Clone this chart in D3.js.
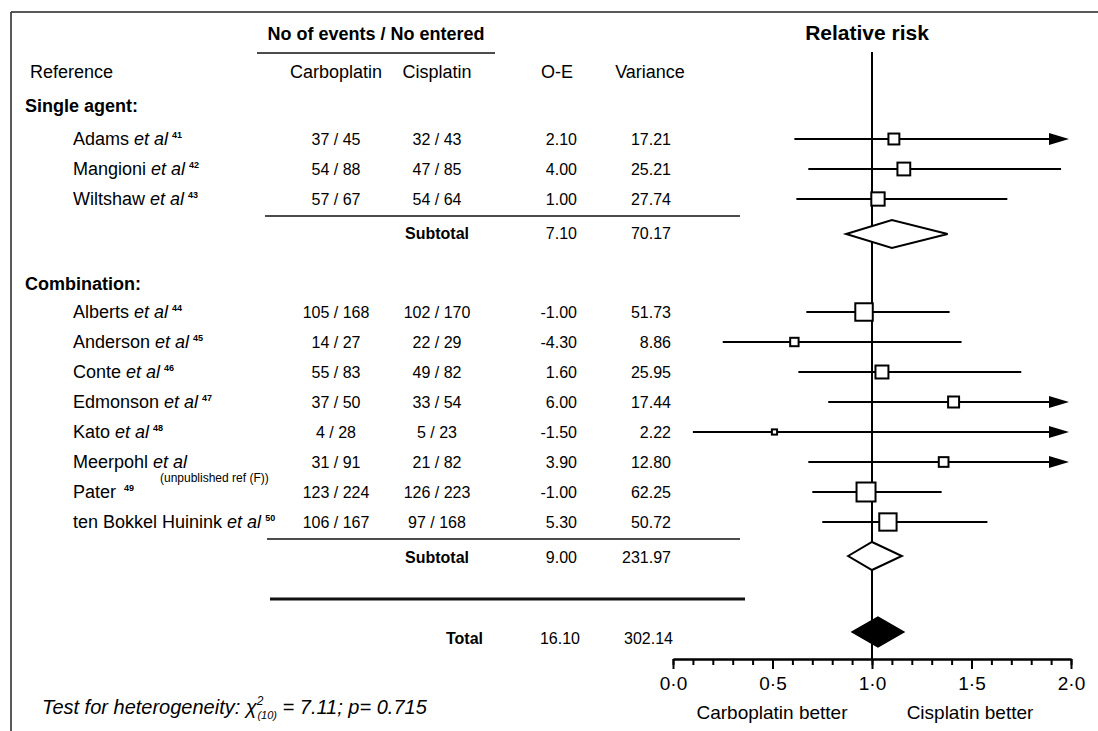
<!DOCTYPE html>
<html>
<head>
<meta charset="utf-8">
<script src="https://cdn.jsdelivr.net/npm/d3@7"></script>
<style>
  body { margin: 0; background: #fff; }
  svg { font-family: "Liberation Sans", Arial, Helvetica, sans-serif; }
  .num { font-size: 16px; }
  .lbl { font-size: 18px; }
  .bold { font-weight: bold; }
</style>
</head>
<body>
<div id="chart"></div>
<script>
// ---- data ----
var groups = ["Single agent:", "Combination:"]
var studies = ["Adams", "Mangioni", "Wiltshaw", "Alberts", "Anderson", "Conte", "Edmonson", "Kato", "Meerpohl", "Pater", "ten Bokkel Huinink"]
var studyGroup = [0, 0, 0, 1, 1, 1, 1, 1, 1, 1, 1]
var etAl = [true, true, true, true, true, true, true, true, true, false, true]
var refNo = ["41", "42", "43", "44", "45", "46", "47", "48", "", "49", "50"]
var carboEvents = [37, 54, 57, 105, 14, 55, 37, 4, 31, 123, 106]
var carboEntered = [45, 88, 67, 168, 27, 83, 50, 28, 91, 224, 167]
var cisEvents = [32, 47, 54, 102, 22, 49, 33, 5, 21, 126, 97]
var cisEntered = [43, 85, 64, 170, 29, 82, 54, 23, 82, 223, 168]
var oe = [2.10, 4.00, 1.00, -1.00, -4.30, 1.60, 6.00, -1.50, 3.90, -1.00, 5.30]
var variance = [17.21, 25.21, 27.74, 51.73, 8.86, 25.95, 17.44, 2.22, 12.80, 62.25, 50.72]
var rr = [1.11, 1.16, 1.03, 0.96, 0.61, 1.05, 1.41, 0.51, 1.36, 0.97, 1.08]
var rrLow = [0.61, 0.68, 0.62, 0.67, 0.25, 0.63, 0.78, 0.10, 0.68, 0.70, 0.75]
var rrHigh = [2.3, 1.95, 1.68, 1.39, 1.45, 1.75, 2.5, 4.0, 2.8, 1.35, 1.58]

var subOE = [7.10, 9.00]
var subVar = [70.17, 231.97]
var subRR = [1.10, 1.00]
var subLow = [0.87, 0.88]
var subHigh = [1.38, 1.15]

var totalOE = 16.10
var totalVar = 302.14
var totalRR = 1.03
var totalLow = 0.90
var totalHigh = 1.16

var majorTicks = [0, 0.5, 1, 1.5, 2]

// ---- layout ----
var W = 1098, H = 731
var svg = d3.select("#chart").append("svg")
  .attr("width", W)
  .attr("height", H)

var x = d3.scaleLinear().domain([0, 2]).range([673, 1071])
var box = d3.scaleSqrt().domain([0, 70]).range([2, 20])

// row centre for each study: single agent from 139, combination from 312, 30px apart
var rowY = function(i) {
  var g = studyGroup[i]
  var first = studyGroup.indexOf(g)
  return (g === 0 ? 139 : 312) + (i - first) * 30
}
var subY = [234, 556]
var subTextY = [239, 563]
var totalY = 632, totalTextY = 644

var colCarbo = 336, colCis = 437, colOE = 577, colVar = 671, colName = 73

// frame
svg.append("line").attr("x1", 11).attr("x2", W).attr("y1", 12).attr("y2", 12)
  .attr("stroke", "#222").attr("stroke-width", 1.5)
svg.append("line").attr("x1", 11).attr("x2", 11).attr("y1", 12).attr("y2", H)
  .attr("stroke", "#222").attr("stroke-width", 1.5)

// headers
svg.append("text").attr("class", "lbl bold").attr("x", 376).attr("y", 40)
  .attr("text-anchor", "middle").text("No of events / No entered")
svg.append("line").attr("x1", 257).attr("x2", 495).attr("y1", 53).attr("y2", 53)
  .attr("stroke", "#111").attr("stroke-width", 1.5)
svg.append("text").attr("class", "lbl").attr("x", 30).attr("y", 78).text("Reference")
svg.append("text").attr("class", "lbl").attr("x", colCarbo).attr("y", 78).attr("text-anchor", "middle").text("Carboplatin")
svg.append("text").attr("class", "lbl").attr("x", colCis).attr("y", 78).attr("text-anchor", "middle").text("Cisplatin")
svg.append("text").attr("class", "lbl").attr("x", 557).attr("y", 78).attr("text-anchor", "middle").text("O-E")
svg.append("text").attr("class", "lbl").attr("x", 650).attr("y", 78).attr("text-anchor", "middle").text("Variance")
svg.append("text").attr("x", 867).attr("y", 40).attr("text-anchor", "middle")
  .attr("font-size", 21).attr("font-weight", "bold").text("Relative risk")

// group labels
svg.selectAll(".grp").data(groups).enter().append("text")
  .attr("class", "grp lbl bold")
  .attr("x", 25)
  .attr("y", (d, i) => i === 0 ? 112 : 290)
  .text(d => d)

// study rows
var idx = d3.range(studies.length)
var names = svg.selectAll(".name").data(idx).enter().append("text")
  .attr("class", "name lbl")
  .attr("x", colName)
  .attr("y", i => rowY(i) + 6)
names.append("tspan").text(i => etAl[i] ? studies[i] + " " : studies[i])
names.filter(i => etAl[i]).append("tspan").attr("font-style", "italic").text("et al")
names.filter(i => refNo[i] !== "").append("tspan")
  .attr("font-size", 9).attr("font-weight", "bold").attr("dx", i => etAl[i] ? 4 : 8).attr("dy", -7)
  .text(i => refNo[i])

svg.append("text").attr("x", 160).attr("y", 482).attr("font-size", 12)
  .text("(unpublished ref (F))")

svg.selectAll(".carbo").data(idx).enter().append("text")
  .attr("class", "carbo num").attr("text-anchor", "middle")
  .attr("x", colCarbo).attr("y", i => rowY(i) + 6)
  .text(i => carboEvents[i] + " / " + carboEntered[i])
svg.selectAll(".cis").data(idx).enter().append("text")
  .attr("class", "cis num").attr("text-anchor", "middle")
  .attr("x", colCis).attr("y", i => rowY(i) + 6)
  .text(i => cisEvents[i] + " / " + cisEntered[i])
svg.selectAll(".oe").data(idx).enter().append("text")
  .attr("class", "oe num").attr("text-anchor", "end")
  .attr("x", colOE).attr("y", i => rowY(i) + 6)
  .text(i => oe[i].toFixed(2))
svg.selectAll(".var").data(idx).enter().append("text")
  .attr("class", "var num").attr("text-anchor", "end")
  .attr("x", colVar).attr("y", i => rowY(i) + 6)
  .text(i => variance[i].toFixed(2))

// subtotal rules and rows
svg.append("line").attr("x1", 265).attr("x2", 740).attr("y1", 216).attr("y2", 216)
  .attr("stroke", "#111").attr("stroke-width", 1.5)
svg.append("line").attr("x1", 267).attr("x2", 740).attr("y1", 539).attr("y2", 539)
  .attr("stroke", "#111").attr("stroke-width", 1.5)
svg.append("line").attr("x1", 270).attr("x2", 745).attr("y1", 599).attr("y2", 599)
  .attr("stroke", "#111").attr("stroke-width", 3)

subOE.forEach(function(v, g) {
  svg.append("text").attr("class", "num bold").attr("x", colCis).attr("y", subTextY[g])
    .attr("text-anchor", "middle").text("Subtotal")
  svg.append("text").attr("class", "num").attr("x", colOE).attr("y", subTextY[g])
    .attr("text-anchor", "end").text(v.toFixed(2))
  svg.append("text").attr("class", "num").attr("x", colVar).attr("y", subTextY[g])
    .attr("text-anchor", "end").text(subVar[g].toFixed(2))
})
svg.append("text").attr("class", "num bold").attr("x", 483).attr("y", totalTextY)
  .attr("text-anchor", "end").text("Total")
svg.append("text").attr("class", "num").attr("x", 580).attr("y", totalTextY)
  .attr("text-anchor", "end").text(totalOE.toFixed(2))
svg.append("text").attr("class", "num").attr("x", 673).attr("y", totalTextY)
  .attr("text-anchor", "end").text(totalVar.toFixed(2))

// ---- forest plot ----
var plot = svg.append("g")

plot.append("line").attr("x1", x(1)).attr("x2", x(1)).attr("y1", 52).attr("y2", 659)
  .attr("stroke", "#000").attr("stroke-width", 2)

plot.selectAll(".ci").data(idx).enter().append("line")
  .attr("class", "ci")
  .attr("x1", i => x(rrLow[i]))
  .attr("x2", i => rrHigh[i] > 2 ? x(2) - 12 : x(rrHigh[i]))
  .attr("y1", i => rowY(i)).attr("y2", i => rowY(i))
  .attr("stroke", "#000").attr("stroke-width", 2)

plot.selectAll(".arrow").data(idx.filter(i => rrHigh[i] > 2)).enter().append("path")
  .attr("class", "arrow")
  .attr("d", i => {
    var tip = x(2) - 2, y = rowY(i)
    return "M" + (tip - 20) + "," + (y - 6) + "L" + tip + "," + y + "L" + (tip - 20) + "," + (y + 6) + "Z"
  })
  .attr("fill", "#000")

plot.selectAll(".box").data(idx).enter().append("rect")
  .attr("class", "box")
  .attr("x", i => x(rr[i]) - box(variance[i]) / 2)
  .attr("y", i => rowY(i) - box(variance[i]) / 2)
  .attr("width", i => box(variance[i]))
  .attr("height", i => box(variance[i]))
  .attr("fill", "#fff").attr("stroke", "#000").attr("stroke-width", 2)

var diamond = function(c, lo, hi, y, h) {
  return "M" + x(lo) + "," + y + "L" + x(c) + "," + (y - h) + "L" + x(hi) + "," + y +
    "L" + x(c) + "," + (y + h) + "Z"
}
subRR.forEach(function(c, g) {
  plot.append("path").attr("d", diamond(c, subLow[g], subHigh[g], subY[g], 14))
    .attr("fill", "#fff").attr("stroke", "#000").attr("stroke-width", 2)
})
plot.append("path").attr("d", diamond(totalRR, totalLow, totalHigh, totalY, 15))
  .attr("fill", "#000").attr("stroke", "#000").attr("stroke-width", 1.5)

// axis: minor ticks, then major ticks with labels
var fmt = d => d3.format(".1f")(d).replace(".", "\u00b7")
var minor = plot.append("g").attr("transform", "translate(0,659)")
  .call(d3.axisBottom(x).tickValues(d3.range(0, 2.001, 0.1)).tickSize(6).tickSizeOuter(0).tickFormat(""))
var major = plot.append("g").attr("transform", "translate(0,659)")
  .call(d3.axisBottom(x).tickValues(majorTicks).tickSize(10).tickSizeOuter(0).tickPadding(8).tickFormat(fmt))
plot.selectAll(".domain").attr("stroke", "#000").attr("stroke-width", 2)
plot.selectAll(".tick line").attr("stroke", "#000").attr("stroke-width", 2)
major.selectAll("text").attr("font-size", 19).attr("font-family", "Liberation Sans, Arial, sans-serif")

svg.append("text").attr("x", 772).attr("y", 719).attr("text-anchor", "middle")
  .attr("font-size", 19).text("Carboplatin better")
svg.append("text").attr("x", 970).attr("y", 719).attr("text-anchor", "middle")
  .attr("font-size", 19).text("Cisplatin better")

// heterogeneity test
var het = svg.append("text").attr("x", 42).attr("y", 714).attr("font-size", 20).attr("font-style", "italic")
het.append("tspan").text("Test for heterogeneity: \u03c7")
het.append("tspan").attr("font-size", 12).attr("dy", -9).text("2")
het.append("tspan").attr("font-size", 11).attr("dy", 14).attr("dx", -6).text("(10)")
het.append("tspan").attr("dy", -5).text(" = 7.11; p= 0.715")
</script>
</body>
</html>
